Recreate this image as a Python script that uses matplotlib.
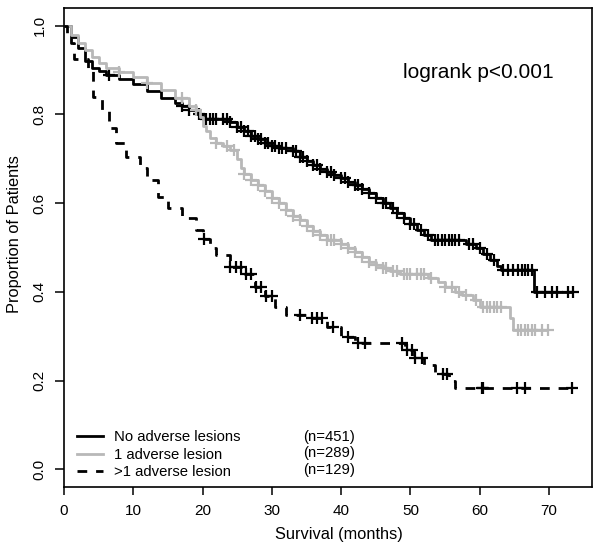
import numpy as np
import matplotlib.pyplot as plt
from matplotlib.lines import Line2D

plt.rcParams['font.family'] = ['Liberation Sans', 'DejaVu Sans']

# ── Kaplan-Meier step data ────────────────────────────────────
none_t = [0, 1, 2, 3, 4, 5, 6, 8, 10, 12, 14, 16, 17, 18, 19, 20, 24, 25, 26,
          27, 28, 29, 30, 31, 33, 34, 35, 36, 37, 38, 39, 40, 41, 42, 43, 44,
          45, 46, 47, 48, 49, 50, 51, 52, 53, 58, 59.5, 60.5, 61.5, 62.5, 63,
          67.8, 73.4]
none_s = [1.0, 0.975, 0.95, 0.92, 0.905, 0.898, 0.89, 0.88, 0.868, 0.852,
          0.838, 0.825, 0.818, 0.81, 0.80, 0.79, 0.782, 0.772, 0.762, 0.752,
          0.745, 0.736, 0.728, 0.724, 0.717, 0.705, 0.695, 0.687, 0.678, 0.67,
          0.664, 0.656, 0.648, 0.64, 0.632, 0.622, 0.612, 0.60, 0.588, 0.578,
          0.566, 0.552, 0.54, 0.528, 0.516, 0.508, 0.50, 0.486, 0.472, 0.458,
          0.449, 0.40, 0.40]
none_cens = [6.5, 17, 18, 19.5, 20.5, 21, 21.5, 22, 23, 23.5, 24, 25, 25.5, 26,
             26.5, 27, 27.5, 28, 28.5, 29, 29.5, 30, 30.5, 31, 31.5, 32, 33,
             33.5, 34, 34.5, 35, 36, 36.5, 37, 38, 38.5, 39, 40, 40.5, 41, 42,
             42.5, 43, 44, 45, 46, 46.5, 47.5, 48, 49, 50, 50.5, 51.5, 52.5,
             53.5, 54, 54.5, 55, 55.5, 56, 56.5, 57, 58.5, 59, 60, 61, 62,
             63.3, 64.1, 64.8, 65.5, 66.1, 66.5, 67, 67.5, 68.2, 69.4, 70.4,
             71.1, 72.7, 73.4]

one_t = [0, 1, 2, 3, 4, 5, 6, 8, 10, 12, 14, 16, 18, 19, 19.6, 20, 20.5, 21,
         22, 23, 24, 25, 25.5, 26, 27, 28, 29, 30, 31, 32, 33, 34, 35, 36, 37,
         38, 40, 41, 42, 43, 44, 45, 46, 47, 48.5, 52.5, 54, 55, 56.5, 57.5,
         59, 60, 64.3, 64.8, 69.8]
one_s = [1.0, 0.98, 0.96, 0.945, 0.93, 0.915, 0.905, 0.895, 0.885, 0.87,
         0.855, 0.838, 0.82, 0.81, 0.795, 0.775, 0.762, 0.748, 0.735, 0.728,
         0.72, 0.70, 0.68, 0.665, 0.652, 0.64, 0.627, 0.612, 0.60, 0.585,
         0.572, 0.562, 0.548, 0.538, 0.528, 0.518, 0.508, 0.50, 0.49, 0.478,
         0.468, 0.46, 0.454, 0.448, 0.44, 0.432, 0.422, 0.41, 0.40, 0.392,
         0.382, 0.366, 0.341, 0.314, 0.314]
one_cens = [8, 12, 17, 19, 22, 23.5, 24.5, 26, 27, 28, 29, 30, 31, 32, 33, 34,
            35, 36, 37, 38, 38.5, 39, 40, 41, 42, 43, 44, 45, 46, 46.5, 47.5,
            48, 49, 49.5, 50, 51, 51.5, 52, 53, 55, 56, 57, 58, 59.5, 60.5, 61,
            61.5, 62, 62.5, 63, 65.5, 66, 66.5, 67, 67.5, 68, 69, 69.8]

multi_t = [0, 0.5, 1, 1.5, 3.5, 4.2, 5.5, 6.5, 7.5, 9, 11, 12, 13.5, 15, 17,
           19, 20, 21, 22, 24, 26, 27.5, 29, 30.5, 32, 35.8, 38, 40, 42, 49.2,
           50.5, 52, 53.5, 55.5, 56.5, 73.6]
multi_s = [1.0, 0.98, 0.96, 0.925, 0.905, 0.84, 0.81, 0.77, 0.735, 0.705,
           0.68, 0.652, 0.614, 0.589, 0.566, 0.54, 0.52, 0.50, 0.483, 0.456,
           0.44, 0.41, 0.39, 0.366, 0.348, 0.341, 0.321, 0.298, 0.284, 0.269,
           0.25, 0.235, 0.215, 0.20, 0.183, 0.183]
multi_cens = [20.2, 24, 24.8, 25.5, 26.3, 27, 27.7, 28.5, 29.2, 30, 34, 35.8,
              36.5, 37.2, 38.8, 41, 42.4, 43.4, 48.8, 49.5, 50.2, 50.6, 51.7,
              54.7, 55.3, 60.3, 60.5, 65.4, 66.5, 73.3]

labels = ["No adverse lesions", "1 adverse lesion", ">1 adverse lesion"]
counts = ["(n=451)", "(n=289)", "(n=129)"]

groups = [
    (none_t, none_s, none_cens, "black", "-"),
    (one_t, one_s, one_cens, "#b8b8b8", "-"),
    (multi_t, multi_s, multi_cens, "black", (0, (3.5, 3.2))),
]

# ── Plot ──────────────────────────────────────────────────────
fig = plt.figure(figsize=(6.01, 5.51), dpi=100)
ax = fig.add_axes([64 / 601, (551 - 487) / 551, 528 / 601, 479 / 551])

handles = []
for (t, s, cens, col, ls), lab in zip(groups, labels):
    t = np.array(t)
    s = np.array(s)
    ax.plot(t, s, drawstyle="steps-post", color=col, lw=2, ls=ls,
            solid_capstyle="butt", dash_capstyle="butt")
    idx = np.searchsorted(t, cens, side="right") - 1
    ax.plot(cens, s[idx], ls="none", marker="+", color=col,
            markersize=8, markeredgewidth=1.6)
    handles.append(Line2D([], [], color=col, lw=2, ls=ls))

ax.set_xlim(0, 76.2)
ax.set_ylim(-0.04, 1.04)
ax.set_xticks([0, 10, 20, 30, 40, 50, 60, 70])
ax.set_yticks([0.0, 0.2, 0.4, 0.6, 0.8, 1.0])
ax.set_yticklabels(["0.0", "0.2", "0.4", "0.6", "0.8", "1.0"],
                   rotation=90, va="center")
ax.tick_params(axis="x", direction="out", length=5.5, width=1.1, pad=7,
               labelsize=11)
ax.tick_params(axis="y", direction="out", length=6.5, width=1.1, pad=6,
               labelsize=11)
for sp in ax.spines.values():
    sp.set_linewidth(1.2)

ax.set_xlabel("Survival (months)", fontsize=11.8)
ax.set_ylabel("Proportion of Patients", fontsize=11.8)
ax.xaxis.set_label_coords(0.52, -0.083)
ax.yaxis.set_label_coords(-0.0795, 0.528)

ax.text((403 - 64) / 528, (487 - 72) / 479, "logrank p<0.001",
        transform=ax.transAxes, fontsize=15, va="center", ha="left")

leg = ax.legend(handles, labels, loc="lower left", frameon=False,
                bbox_to_anchor=(0.005, -0.006), fontsize=10.7,
                handlelength=1.75, handletextpad=0.75, labelspacing=0.25,
                borderpad=0.2)

for i, c in enumerate(counts):
    ax.text((303 - 64) / 528, (487 - (437 + 16.5 * i)) / 479, c,
            transform=ax.transAxes, fontsize=10.7, va="center", ha="left")

fig.savefig("out.png", dpi=100)
